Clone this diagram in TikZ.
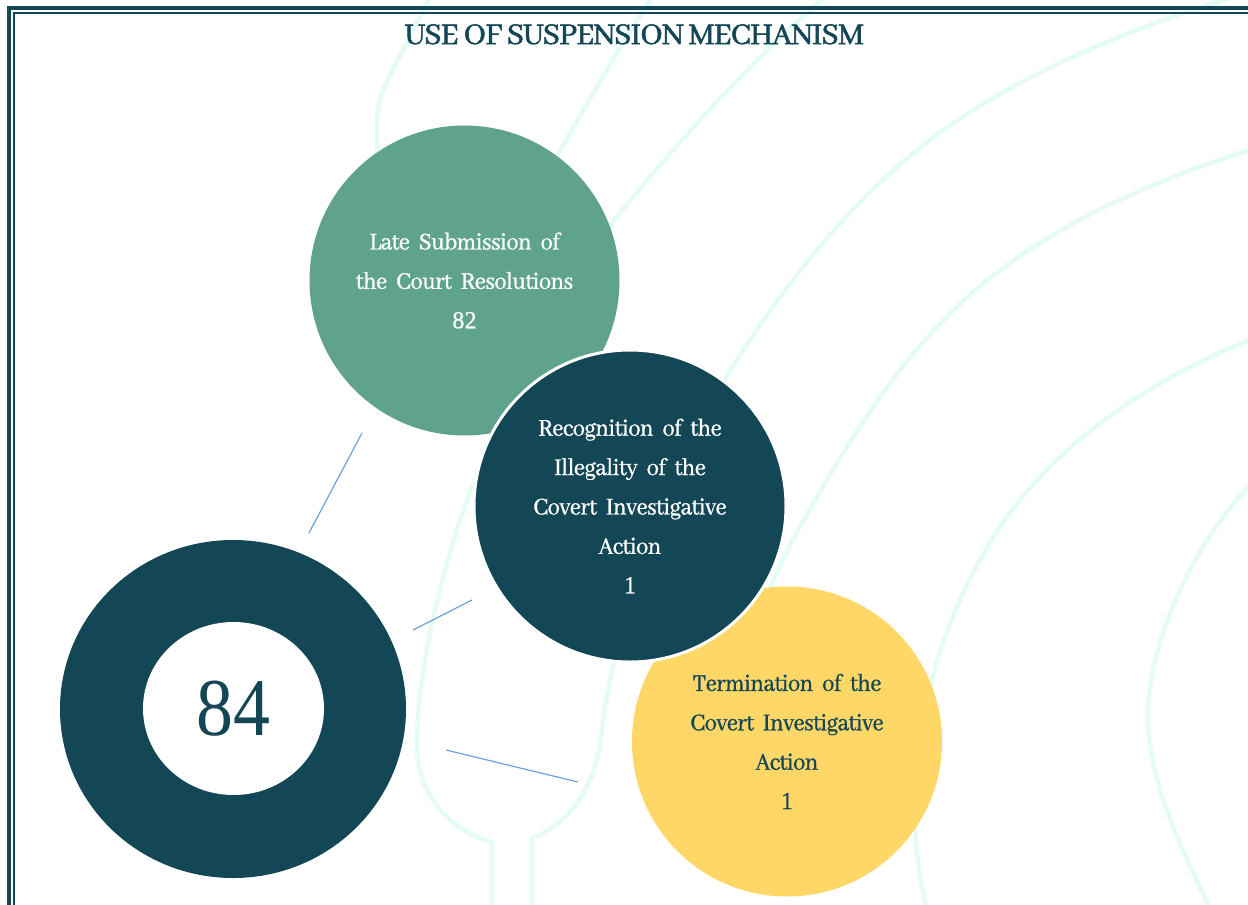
\documentclass[tikz,border=0pt]{standalone}
\usepackage{fontspec}
\setmainfont{Abhaya Libre}
\newfontfamily\titlefont{Abhaya Libre}[FakeBold=1.6,LetterSpace=-2.6,WordSpace=0.9]
\newfontfamily\labelfont{Abhaya Libre}[FakeBold=0.9,FakeStretch=0.93,LetterSpace=-2.4,WordSpace=0.35]
\newfontfamily\digitfont{Liberation Serif}[FakeBold=0.5]
\newfontfamily\bigdigitfont{Liberation Serif}[FakeStretch=0.9]
\newcommand{\dig}[1]{{\digitfont\fontsize{24.5}{39.4}\selectfont #1}}
\usetikzlibrary{shapes.geometric}
\definecolor{deepteal}{HTML}{134756}
\definecolor{sagegreen}{HTML}{5FA38F}
\definecolor{sunyellow}{HTML}{FFD766}
\definecolor{mintline}{HTML}{E5FCF5}
\definecolor{linkblue}{HTML}{6AA3E0}
\tikzset{
  wave/.style={draw=mintline,line width=4.5pt,line join=round},
  link/.style={draw=linkblue,line width=1.2pt},
  bubble/.style={circle,minimum size=310pt,inner sep=0pt,align=center,text width=235pt,
    font=\labelfont\fontsize{26.5}{39.4}\selectfont},
  frameouter/.style={draw=deepteal,line width=4pt,line join=miter},
  frameinner/.style={draw=deepteal,line width=2pt,line join=miter},
}
\begin{document}
\begin{tikzpicture}[x=1pt,y=-1pt]
\clip (0,0) rectangle (1248,905);
\fill[white] (0,0) rectangle (1248,905);
% background line art
\draw[wave] (377,160) -- (377,117) .. controls (378,95) and (395,65) .. (407,43) -- (432,-8);
\draw[wave] (520,220) .. controls (570,135) and (610,60) .. (660,-15);
\draw[wave] (832,-8) .. controls (765,45) and (670,150) .. (612,223)
  .. controls (560,300) and (487,435) .. (457,530)
  .. controls (435,600) and (417,680) .. (417,745)
  .. controls (417,800) and (455,832) .. (492,842) -- (492,915);
\draw[wave] (532,915) -- (532,838)
  .. controls (570,824) and (597,785) .. (602,730)
  .. controls (610,650) and (659,484) .. (724,380)
  .. controls (780,291) and (846,204) .. (930,140)
  .. controls (1017,73) and (1144,23) .. (1250,-8);
\draw[wave] (1255,148) .. controls (1155,180) and (1051,224) .. (972,293)
  .. controls (899,357) and (847,443) .. (800,527)
  .. controls (785,553) and (765,595) .. (750,640);
\draw[wave] (1255,338) .. controls (1157,376) and (1058,440) .. (1000,527)
  .. controls (945,610) and (915,710) .. (915,810)
  .. controls (915,850) and (920,880) .. (928,915);
\draw[wave] (1255,480) .. controls (1195,540) and (1148,640) .. (1148,717)
  .. controls (1148,785) and (1184,852) .. (1213,915);
% frame
\draw[frameouter] (9,910) -- (9,8) -- (1253,8);
\draw[frameinner] (14,910) -- (14,13) -- (1253,13);
% title
\node[text=deepteal,font=\titlefont\fontsize{33}{33}\selectfont,anchor=base] (title) at (634.5,44) {USE OF SUSPENSION MECHANISM};
% connector ends
\coordinate (la) at (362,433); \coordinate (lb) at (309,533);
\coordinate (lc) at (472,600); \coordinate (ld) at (413,630);
\coordinate (le) at (446,750); \coordinate (lf) at (578,782);
\draw[link] (la) -- (lb);
\draw[link] (lc) -- (ld);
\draw[link] (le) -- (lf);
% circles
\node[bubble,fill=sagegreen,text=white] (late) at (464.5,280.5) {Late Submission of\\the Court Resolutions\\\dig{82}};
\node[bubble,fill=sunyellow,text=deepteal] (term) at (787,741.5) {Termination of the\\Covert Investigative\\Action\\\dig{1}};
\node[bubble,fill=deepteal,text=white,draw=white,line width=3pt,minimum size=312pt] (recog) at (630,506) {Recognition of the\\Illegality of the\\Covert Investigative\\Action\\\dig{1}};
% total ring
\node[ellipse,fill=deepteal,minimum width=346pt,minimum height=338pt,inner sep=0pt] (ring) at (233,709) {};
\node[ellipse,fill=white,text=deepteal,minimum width=181pt,minimum height=173pt,inner sep=0pt,font=\bigdigitfont\fontsize{82}{82}\selectfont] (total) at (233.5,708.5) {84};
\end{tikzpicture}
\end{document}
